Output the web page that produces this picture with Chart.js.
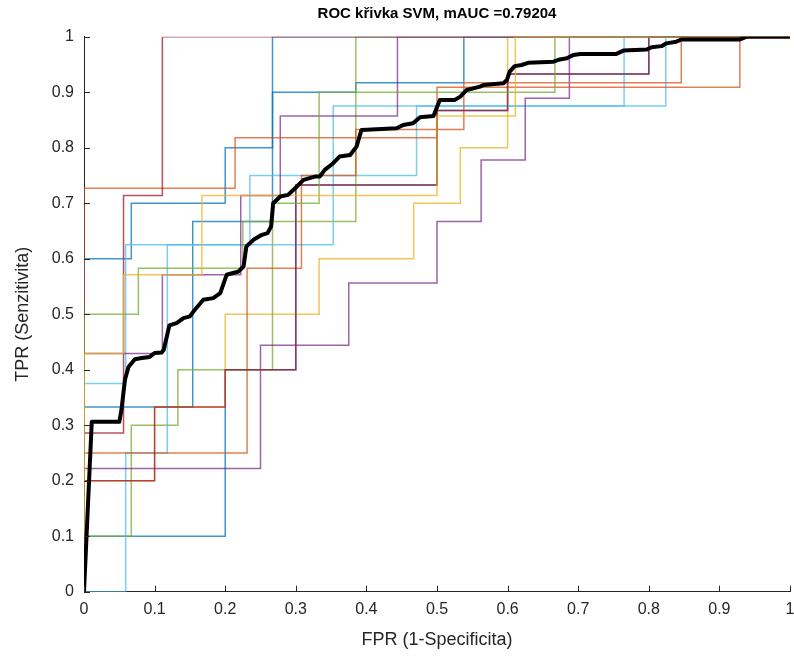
<!DOCTYPE html>
<html>
<head>
<meta charset="utf-8">
<title>ROC křivka SVM</title>
<script src="https://cdn.jsdelivr.net/npm/chart.js@4.4.0/dist/chart.umd.min.js"></script>
<style>
  html, body { margin: 0; padding: 0; background: #fff; }
</style>
</head>
<body>
<canvas id="rocCanvas" width="794" height="662"></canvas>
<script>
// axis ticks
const tickValues = [0, 0.1, 0.2, 0.3, 0.4, 0.5, 0.6, 0.7, 0.8, 0.9, 1];

// per-fold ROC curves, corner points of the steps (go up first, then right)
const fold1Fpr = [0, 0.067, 0.2, 0.267, 1];
const fold1Tpr = [0, 0.6, 0.7, 0.8, 1];
const fold2Fpr = [0, 0.214, 0.5, 0.929, 1];
const fold2Tpr = [0, 0.727, 0.818, 0.909, 1];
const fold3Fpr = [0, 0.056, 0.167, 0.5, 0.611, 1];
const fold3Tpr = [0, 0.429, 0.571, 0.714, 0.857, 1];
const fold4Fpr = [0, 0.25, 0.375, 0.5, 0.5625, 0.625, 0.6875, 1];
const fold4Tpr = [0, 0.222, 0.444, 0.556, 0.667, 0.778, 0.889, 1];
const fold5Fpr = [0, 0.067, 0.133, 0.267, 0.385, 1];
const fold5Tpr = [0, 0.1, 0.3, 0.4, 0.667, 1];
const fold6Fpr = [0, 0.059, 0.118, 0.353, 0.824, 1];
const fold6Tpr = [0, 0, 0.25, 0.625, 0.875, 1];
const fold7Fpr = [0, 0.056, 0.111, 1];
const fold7Tpr = [0, 0.286, 0.714, 1];
const fold8Fpr = [0, 0.154, 0.267, 0.385, 0.538, 1];
const fold8Tpr = [0, 0.333, 0.667, 0.9, 0.917, 1];
const fold9Fpr = [0, 0.231, 0.308, 0.385, 0.538, 0.846, 1];
const fold9Tpr = [0, 0.25, 0.583, 0.75, 0.833, 0.917, 1];
const fold10Fpr = [0, 0.1, 0.2, 0.333, 0.467, 0.533, 0.6, 1];
const fold10Tpr = [0, 0.2, 0.333, 0.5, 0.6, 0.7, 0.8, 1];
const fold11Fpr = [0, 0.111, 0.222, 0.278, 0.444, 1];
const fold11Tpr = [0, 0.429, 0.571, 0.714, 0.857, 1];
const fold12Fpr = [0, 0.077, 0.225, 0.267, 0.333, 0.667, 1];
const fold12Tpr = [0, 0.5, 0.583, 0.667, 0.7, 0.9, 1];
const fold13Fpr = [0, 0.059, 0.235, 0.471, 0.765, 1];
const fold13Tpr = [0, 0.375, 0.625, 0.75, 0.875, 1];
const fold14Fpr = [0, 0.1, 0.2, 0.3, 0.5, 0.6, 0.8, 1];
const fold14Tpr = [0, 0.2, 0.333, 0.4, 0.733, 0.867, 0.933, 1];
const fold15Fpr = [0, 0.2, 0.3, 0.5, 0.6, 0.8, 1];
const fold15Tpr = [0, 0.1, 0.4, 0.733, 0.867, 0.933, 1];

// mean ROC curve
const meanFpr = [0, 0.011, 0.05, 0.053, 0.058, 0.063, 0.072, 0.082, 0.093, 0.1, 0.11, 0.113,
  0.121, 0.131, 0.141, 0.15, 0.157, 0.169, 0.183, 0.193, 0.202, 0.219, 0.226, 0.23, 0.24,
  0.252, 0.26, 0.265, 0.268, 0.278, 0.289, 0.299, 0.311, 0.327, 0.334, 0.341, 0.353, 0.362,
  0.377, 0.386, 0.393, 0.443, 0.452, 0.466, 0.476, 0.495, 0.504, 0.525, 0.533, 0.542, 0.561,
  0.566, 0.594, 0.599, 0.603, 0.61, 0.62, 0.629, 0.665, 0.674, 0.684, 0.693, 0.703, 0.754,
  0.764, 0.797, 0.804, 0.818, 0.825, 0.839, 0.846, 0.929, 0.939, 1];
const meanTpr = [0, 0.306, 0.306, 0.327, 0.382, 0.405, 0.419, 0.421, 0.423, 0.43, 0.431, 0.436,
  0.48, 0.484, 0.493, 0.496, 0.508, 0.526, 0.529, 0.538, 0.571, 0.577, 0.586, 0.622, 0.634,
  0.643, 0.646, 0.658, 0.7, 0.712, 0.715, 0.727, 0.742, 0.748, 0.748, 0.76, 0.772, 0.784,
  0.787, 0.802, 0.832, 0.835, 0.841, 0.844, 0.855, 0.857, 0.886, 0.886, 0.892, 0.904, 0.91,
  0.913, 0.916, 0.922, 0.937, 0.947, 0.949, 0.953, 0.955, 0.959, 0.961, 0.967, 0.969, 0.969,
  0.975, 0.977, 0.981, 0.983, 0.988, 0.991, 0.995, 0.995, 1, 1];

const BLUE = 'rgba(0, 114, 189, 0.75)';
const ORANGE = 'rgba(217, 83, 25, 0.75)';
const YELLOW = 'rgba(237, 177, 32, 0.75)';
const PURPLE = 'rgba(126, 47, 142, 0.75)';
const GREEN = 'rgba(119, 172, 48, 0.75)';
const LIGHTBLUE = 'rgba(77, 190, 238, 0.75)';
const DARKRED = 'rgba(162, 20, 47, 0.75)';

const toPoints = (xs, ys) => xs.map((x, i) => ({ x: x, y: ys[i] }));

// first in the list is drawn on top
const folds = [
  [fold3Fpr, fold3Tpr, YELLOW],
  [fold12Fpr, fold12Tpr, GREEN],
  [fold14Fpr, fold14Tpr, DARKRED],
  [fold7Fpr, fold7Tpr, DARKRED],
  [fold2Fpr, fold2Tpr, ORANGE],
  [fold9Fpr, fold9Tpr, ORANGE],
  [fold4Fpr, fold4Tpr, PURPLE],
  [fold11Fpr, fold11Tpr, PURPLE],
  [fold6Fpr, fold6Tpr, LIGHTBLUE],
  [fold13Fpr, fold13Tpr, LIGHTBLUE],
  [fold5Fpr, fold5Tpr, GREEN],
  [fold10Fpr, fold10Tpr, YELLOW],
  [fold1Fpr, fold1Tpr, BLUE],
  [fold8Fpr, fold8Tpr, BLUE],
  [fold15Fpr, fold15Tpr, BLUE],
];

const datasets = [{
  data: toPoints(meanFpr, meanTpr),
  borderColor: '#000',
  borderWidth: 4,
  borderJoinStyle: 'round',
  showLine: true,
  pointRadius: 0,
}].concat(folds.map(([fpr, tpr, color]) => ({
  data: toPoints(fpr, tpr),
  borderColor: color,
  borderWidth: 1.5,
  stepped: 'after',
  showLine: true,
  pointRadius: 0,
})));

const AXIS_COLOR = '#262626';
Chart.defaults.font.family = "'Liberation Sans', Arial, Helvetica, sans-serif";

// MATLAB style ticks pointing into the axes
const inwardTicks = {
  id: 'inwardTicks',
  afterDatasetsDraw(chart) {
    const { ctx, chartArea, scales: { x, y } } = chart;
    ctx.save();
    ctx.strokeStyle = AXIS_COLOR;
    ctx.lineWidth = 1;
    ctx.beginPath();
    x.ticks.forEach(t => {
      const px = Math.round(x.getPixelForValue(t.value)) + 0.5;
      ctx.moveTo(px, chartArea.bottom);
      ctx.lineTo(px, chartArea.bottom - 6);
    });
    y.ticks.forEach(t => {
      const py = Math.round(y.getPixelForValue(t.value)) + 0.5;
      ctx.moveTo(chartArea.left, py);
      ctx.lineTo(chartArea.left + 6, py);
    });
    ctx.stroke();
    ctx.restore();
  }
};

const fmt = v => (v === 0 || v === 1) ? String(v) : v.toFixed(1);

new Chart(document.getElementById('rocCanvas'), {
  type: 'scatter',
  data: { datasets: datasets },
  options: {
    responsive: false,
    animation: false,
    layout: { padding: { right: 4 } },
    scales: {
      x: {
        type: 'linear',
        min: 0,
        max: 1,
        afterBuildTicks: scale => { scale.ticks = tickValues.map(v => ({ value: v })); },
        afterFit: scale => {
          scale.height = 70.3;
          scale.paddingLeft = 0;
          scale.paddingRight = 0;
        },
        ticks: { color: AXIS_COLOR, font: { size: 16 }, padding: 8, maxRotation: 0, callback: fmt },
        grid: { display: true, drawOnChartArea: false, drawTicks: false },
        border: { color: AXIS_COLOR },
        title: {
          display: true,
          text: 'FPR (1-Specificita)',
          color: AXIS_COLOR,
          font: { size: 18 },
          padding: { top: 0, bottom: 11 },
        },
      },
      y: {
        type: 'linear',
        min: 0,
        max: 1,
        afterBuildTicks: scale => { scale.ticks = tickValues.map(v => ({ value: v })); },
        afterFit: scale => { scale.width = 84; },
        ticks: { color: AXIS_COLOR, font: { size: 16 }, padding: 10, callback: fmt },
        grid: { display: true, drawOnChartArea: false, drawTicks: false },
        border: { color: AXIS_COLOR },
        title: {
          display: true,
          text: 'TPR (Senzitivita)',
          color: AXIS_COLOR,
          font: { size: 18 },
          padding: { top: 12, bottom: 0 },
        },
      },
    },
    plugins: {
      legend: { display: false },
      tooltip: { enabled: false },
      title: {
        display: true,
        text: 'ROC křivka SVM, mAUC =0.79204',
        fullSize: false,
        color: '#000',
        font: { size: 15, weight: 'bold' },
        padding: { top: 5, bottom: 13.7 },
      },
    },
  },
  plugins: [inwardTicks],
});
</script>
</body>
</html>
